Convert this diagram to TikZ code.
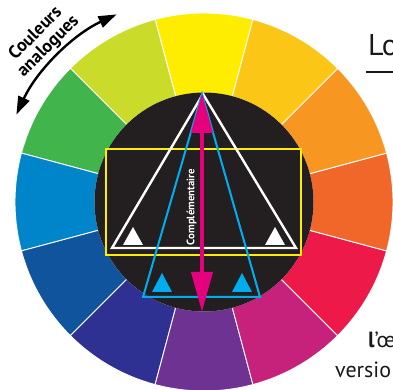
\documentclass[tikz,border=0pt]{standalone}
\usepackage{fontspec}
\setmainfont{PT Sans}
\usepackage{tikz}
\usetikzlibrary{
  positioning,
  arrows.meta
}
\definecolor{WheelDark}{RGB}{35,31,32}
\definecolor{WYellow}{RGB}{255,237,0}
\definecolor{WLime}{RGB}{203,219,42}
\definecolor{WGreen}{RGB}{65,180,75}
\definecolor{WBlue}{RGB}{0,133,202}
\definecolor{WDkBlue}{RGB}{17,84,158}
\definecolor{WIndigo}{RGB}{46,49,146}
\definecolor{WPurple}{RGB}{110,50,146}
\definecolor{WMagenta}{RGB}{198,33,123}
\definecolor{WRed}{RGB}{237,25,72}
\definecolor{WOrRed}{RGB}{241,103,41}
\definecolor{WOrange}{RGB}{247,150,33}
\definecolor{WGold}{RGB}{252,198,22}
\definecolor{RectYellow}{RGB}{255,237,0}
\definecolor{TriBlue}{RGB}{0,174,239}
\definecolor{CompPink}{RGB}{229,0,125}

\begin{document}
\begin{tikzpicture}[
  x=1pt, y=1pt,
  seg/.style={draw=white, line width=0.9pt},
  tri/.style={line width=2.4pt, line join=miter},
  comp/.style={line width=4pt, CompPink,
    {Triangle[length=40pt,width=21pt]}-{Triangle[length=40pt,width=21pt]}},
  ana/.style={line width=2.4pt, black,
    {Triangle[length=18pt,width=12pt]}-{Triangle[length=18pt,width=12pt]}},
  lbl/.style={inner sep=0pt, anchor=base west, text=black!90},
]
  % ========== cadre ==========
  \useasboundingbox (-204,-188) rectangle (189,202);
  \clip (-204,-188) rectangle (189,202);

  % ========== cercle chromatique (12 secteurs) ==========
  \foreach \ang/\col in {90/WYellow,120/WLime,150/WGreen,180/WBlue,
      210/WDkBlue,240/WIndigo,270/WPurple,300/WMagenta,
      330/WRed,0/WOrRed,30/WOrange,60/WGold}
    \filldraw[seg, fill=\col] ({\ang-15}:109)
      arc[start angle=\ang-15, end angle=\ang+15, radius=109]
      -- ({\ang+15}:189)
      arc[start angle=\ang+15, end angle=\ang-15, radius=189] -- cycle;
  \fill[WheelDark] (0,0) circle[radius=109.5];

  % ========== rectangle jaune ==========
  \draw[tri, RectYellow, line width=2pt] (-98,-53) rectangle (97,53);

  % ========== triangle blanc ==========
  \coordinate (W1) at (-1,108);
  \coordinate (W2) at (-92,-46);
  \coordinate (W3) at (92,-46);
  \draw[tri, white] (W1) -- (W2) -- (W3) -- cycle;
  \foreach \cx in {-71,71}
    \fill[white] (\cx-10,-43) -- (\cx+10,-43) -- (\cx,-25) -- cycle;

  % ========== triangle bleu ==========
  \coordinate (B1) at (-2,108);
  \coordinate (B2) at (-61,-95);
  \coordinate (B3) at (56,-95);
  \draw[tri, TriBlue, line width=2pt] (B1) -- (B2) -- (B3) -- cycle;
  \foreach \cx in {-42,38}
    \fill[TriBlue] (\cx-10,-90) -- (\cx+10,-90) -- (\cx,-71) -- cycle;

  % ========== complementaire ==========
  \coordinate (cTop) at (-2,109);
  \coordinate (cBot) at (-2,-110);
  \draw[comp] (cBot) -- (cTop);
  \node[rotate=90, text=white, inner sep=0pt,
    font=\bfseries\fontsize{10.8}{11}\selectfont] (complab) at (-12.5,-5)
    {Complémentaire};

  % ========== couleurs analogues ==========
  \draw[ana] (155:207) arc[start angle=155, end angle=115, radius=207];
  \node[rotate=45, align=center, inner sep=0pt,
    font=\bfseries\fontsize{18}{18}\selectfont] (analog) at (135:229)
    {Couleurs\\analogues};

  % ========== textes coupes a droite ==========
  \node[lbl, font=\fontsize{30}{30}\selectfont] (titre) at (164,146) {Lo};
  \draw[line width=1.5pt, black!90] ([xshift=-2pt,yshift=-16pt]titre.base west)
    -- ++(60,0);
  \node[lbl, font=\fontsize{22}{22}\selectfont] (oeil) at (164,-146)
    {\textbf{l}'œ};
  \node[lbl, font=\fontsize{22}{22}\selectfont] (version) at (131,-175)
    {versio};

\end{tikzpicture}
\end{document}
